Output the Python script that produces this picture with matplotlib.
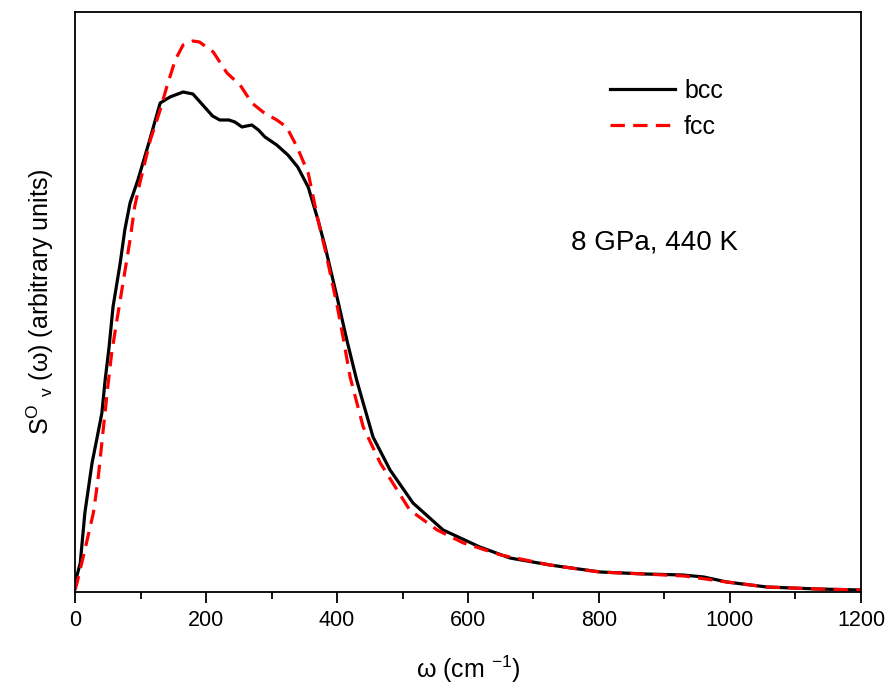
import matplotlib
matplotlib.use("Agg")
import matplotlib.pyplot as plt
from matplotlib.ticker import MultipleLocator

plt.rcParams['font.family'] = ['Liberation Sans', 'DejaVu Sans']
plt.rcParams['mathtext.fontset'] = 'custom'
plt.rcParams['mathtext.rm'] = 'Liberation Sans'

# bcc series (arbitrary units)
bcc_w = [0, 8, 15, 26, 33, 41, 46, 52, 58, 69, 76, 84, 96, 105, 114, 130, 145, 165, 180, 195,
         210, 221, 235, 244, 255, 262, 270, 280, 290, 308, 325, 340, 356, 371, 382, 400,
         415, 430, 440, 455, 481, 516, 562, 618, 664, 725, 802, 870, 928, 960, 995, 1056,
         1133, 1200]
bcc_s = [9, 29, 79, 129, 152, 179, 212, 245, 285, 329, 362, 389, 412, 432, 452, 489, 495,
         500, 498, 487, 476, 472, 472, 470, 465, 466, 467, 462, 455, 447, 437, 425, 405,
         372, 345, 295, 252, 212, 189, 155, 122, 89, 62, 45, 34, 27, 20, 18, 17, 15, 10, 5,
         3, 2]

# fcc series (arbitrary units)
fcc_w = [0, 3, 15, 28, 35, 43, 50, 56, 64, 74, 84, 91, 99, 115, 130, 140, 153, 165, 180,
         190, 211, 232, 252, 270, 287, 308, 323, 339, 356, 371, 382, 400, 410, 420, 440,
         466, 511, 553, 593, 650, 725, 800, 870, 930, 995, 1056, 1133, 1200]
fcc_s = [2, 9, 42, 79, 112, 162, 205, 239, 272, 312, 352, 385, 409, 452, 482, 505, 532,
         547, 551, 550, 540, 519, 507, 489, 480, 472, 465, 445, 419, 372, 342, 287, 252,
         215, 165, 129, 82, 62, 49, 37, 27, 20, 18, 16, 10, 5, 3, 2]

x_ticks = [0, 200, 400, 600, 800, 1000, 1200]

fig = plt.figure(figsize=(8.91, 6.89), dpi=100)
ax = fig.add_axes([0.0842, 0.1408, 0.8821, 0.8418])

ax.plot(bcc_w, bcc_s, color='black', lw=2.3, label='bcc')
ax.plot(fcc_w, fcc_s, color='red', lw=2.3, ls=(0, (4.5, 2.6)), label='fcc')

ax.set_xlim(0, 1200)
ax.set_ylim(0, 580)
ax.set_xticks(x_ticks)
ax.xaxis.set_minor_locator(MultipleLocator(100))
ax.set_yticks([])
ax.tick_params(axis='x', which='major', direction='out', length=8, width=1.3,
               labelsize=15.5, pad=5, top=False)
ax.tick_params(axis='x', which='minor', direction='out', length=5, width=1.3, top=False)
for sp in ax.spines.values():
    sp.set_linewidth(1.3)

ax.set_xlabel('ω (cm $^{-1}$)', fontsize=18, labelpad=16)
ax.set_ylabel(r'S$^{\mathrm{O}}$ $_{\mathrm{v}}$ (ω) (arbitrary units)', fontsize=18,
              labelpad=14)

ax.legend(loc='upper left', bbox_to_anchor=(0.681, 0.885), frameon=False, fontsize=18,
          borderpad=0, borderaxespad=0, handlelength=2.6, handletextpad=0.35,
          labelspacing=0.5)

ax.text(757, 349, '8 GPa, 440 K', fontsize=20, va='center', ha='left')

fig.savefig('out.png', dpi=100)
